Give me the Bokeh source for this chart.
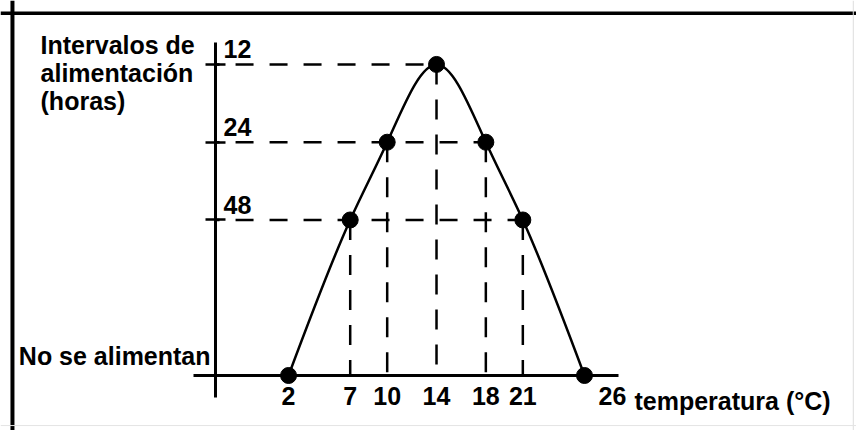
import numpy as np
from bokeh.plotting import figure
from bokeh.models import Range1d, FixedTicker, Span
from bokeh.core.properties import value
from bokeh.embed import file_html
from bokeh.resources import INLINE

# ---------------- data ----------------
TEMPS = [2, 7, 10, 14, 18, 21, 26]                  # temperatura (°C)
NO_FEED = 192                                        # display level used for "No se alimentan"
INTERVALS = [NO_FEED, 48, 24, 12, 24, 48, NO_FEED]   # intervalos de alimentación (horas)
Y_TICKS = [12, 24, 48]
Y_TICK_LABELS = ["12", "24", "48"]
X_TICK_LABELS = [str(t) for t in TEMPS]
Y_TITLE = "Intervalos de\nalimentación\n(horas)"
NO_FEED_LABEL = "No se alimentan"
X_TITLE = "temperatura (°C)"

# ---------------- style / layout ----------------
FONT = value("Liberation Sans")
FS = value("25px")
LW = 2.5
AXIS_X = -3.92                      # x (°C) where the vertical axis is drawn
X_LO, X_HI = -21.36, 48.06
Y_BOTTOM, Y_TOP = 313.5, 6.786

p = figure(width=856, height=430,
           x_range=Range1d(X_LO, X_HI), y_range=Range1d(Y_BOTTOM, Y_TOP),
           y_axis_type="log", output_backend="svg", toolbar_location=None,
           min_border=0)
p.grid.visible = False
p.outline_line_color = None
p.background_fill_color = "white"
p.border_fill_color = "white"

# frame of the picture
p.add_layout(Span(location=-20.39, dimension="height", line_color="black", line_width=4))
p.add_layout(Span(location=7.61, dimension="width", line_color="black", line_width=3.5))
p.add_layout(Span(location=47.8, dimension="height", line_color="#dddddd", line_width=1))
p.add_layout(Span(location=300.0, dimension="width", line_color="#e4e4e4", line_width=1))

# x axis
xa = p.xaxis[0]
xa.fixed_location = NO_FEED
xa.bounds = (-5.71, 28.76)
xa.ticker = FixedTicker(ticks=TEMPS[:-1], minor_ticks=[])
xa.major_label_overrides = {t: lab for t, lab in zip(TEMPS[:-1], X_TICK_LABELS[:-1])}
xa.major_tick_line_color = None
xa.major_tick_out = 0
xa.major_tick_in = 0
xa.minor_tick_line_color = None
xa.axis_line_width = 3
xa.axis_line_color = "black"
xa.major_label_standoff = 12
xa.major_label_text_font = "Liberation Sans"
xa.major_label_text_font_style = "bold"
xa.major_label_text_font_size = "25px"
xa.major_label_text_color = "black"

# y axis
ya = p.yaxis[0]
ya.fixed_location = AXIS_X
ya.bounds = (9.86, 233.6)
ya.ticker = FixedTicker(ticks=Y_TICKS, minor_ticks=[])
ya.major_label_overrides = {t: "" for t in Y_TICKS}
ya.major_tick_in = 10
ya.major_tick_out = 10
ya.major_tick_line_width = LW
ya.major_tick_line_color = "black"
ya.minor_tick_line_color = None
ya.axis_line_width = 3
ya.axis_line_color = "black"

# dashed guide lines
hx0, hx1, hy = [], [], []
for lvl in Y_TICKS:
    right = max(t for t, v in zip(TEMPS, INTERVALS) if v == lvl)
    hx0.append(AXIS_X)
    hx1.append(right)
    hy.append(lvl)
p.segment(x0=hx0, y0=hy, x1=hx1, y1=hy, line_color="black", line_width=LW,
          line_dash="18 16", line_dash_offset=14)

vx = [t for t, v in zip(TEMPS, INTERVALS) if v in Y_TICKS]
vy = [v for v in INTERVALS if v in Y_TICKS]
p.segment(x0=vx, y0=vy, x1=vx, y1=[NO_FEED] * len(vx), line_color="black",
          line_width=LW, line_dash="20 15")

# smooth curve through the points: natural cubic spline in (°C, log2 h), drawn as Beziers
xs = np.array(TEMPS, float)
ys = np.log2(np.array(INTERVALS, float))
n = len(xs)
h = np.diff(xs)
A = np.zeros((n, n))
r = np.zeros(n)
A[0, 0] = A[-1, -1] = 1.0
for i in range(1, n - 1):
    A[i, i - 1] = h[i - 1]
    A[i, i] = 2 * (h[i - 1] + h[i])
    A[i, i + 1] = h[i]
    r[i] = 6 * ((ys[i + 1] - ys[i]) / h[i] - (ys[i] - ys[i - 1]) / h[i - 1])
M = np.linalg.solve(A, r)
x0, y0, x1, y1, cx0, cy0, cx1, cy1 = ([] for _ in range(8))
for i in range(n - 1):
    s = (ys[i + 1] - ys[i]) / h[i]
    d0 = s - h[i] * (2 * M[i] + M[i + 1]) / 6
    d1 = s + h[i] * (M[i] + 2 * M[i + 1]) / 6
    x0.append(xs[i]); y0.append(2 ** ys[i])
    x1.append(xs[i + 1]); y1.append(2 ** ys[i + 1])
    cx0.append(xs[i] + h[i] / 3); cy0.append(2 ** (ys[i] + d0 * h[i] / 3))
    cx1.append(xs[i + 1] - h[i] / 3); cy1.append(2 ** (ys[i + 1] - d1 * h[i] / 3))
p.bezier(x0=x0, y0=y0, x1=x1, y1=y1, cx0=cx0, cy0=cy0, cx1=cx1, cy1=cy1,
         line_color="black", line_width=LW)

# points
p.scatter(TEMPS, INTERVALS, size=16, color="black")

# texts
common = dict(text_font=FONT, text_font_style="bold", text_font_size=FS, text_color="black")
p.text(x=[AXIS_X] * len(Y_TICKS), y=Y_TICKS, text=Y_TICK_LABELS, x_offset=8, y_offset=-15,
       text_align="left", text_baseline="alphabetic", **common)
p.text(x=[AXIS_X], y=[NO_FEED], text=[NO_FEED_LABEL], x_offset=-5, y_offset=-19,
       text_align="right", text_baseline="alphabetic", **common)
p.text(x=[TEMPS[-1]], y=[NO_FEED], text=[X_TICK_LABELS[-1]], x_offset=14, y_offset=12,
       text_align="left", text_baseline="top", **common)
p.text(x=[TEMPS[-1]], y=[NO_FEED], text=[X_TITLE], x_offset=50, y_offset=12,
       text_align="left", text_baseline="top", **common)
p.text(x=[AXIS_X], y=[Y_TICKS[0]], text=[Y_TITLE], x_offset=-175, y_offset=-33,
       text_align="left", text_baseline="top", text_line_height=1.0, **common)

open("out.html", "w").write(file_html(p, INLINE))
